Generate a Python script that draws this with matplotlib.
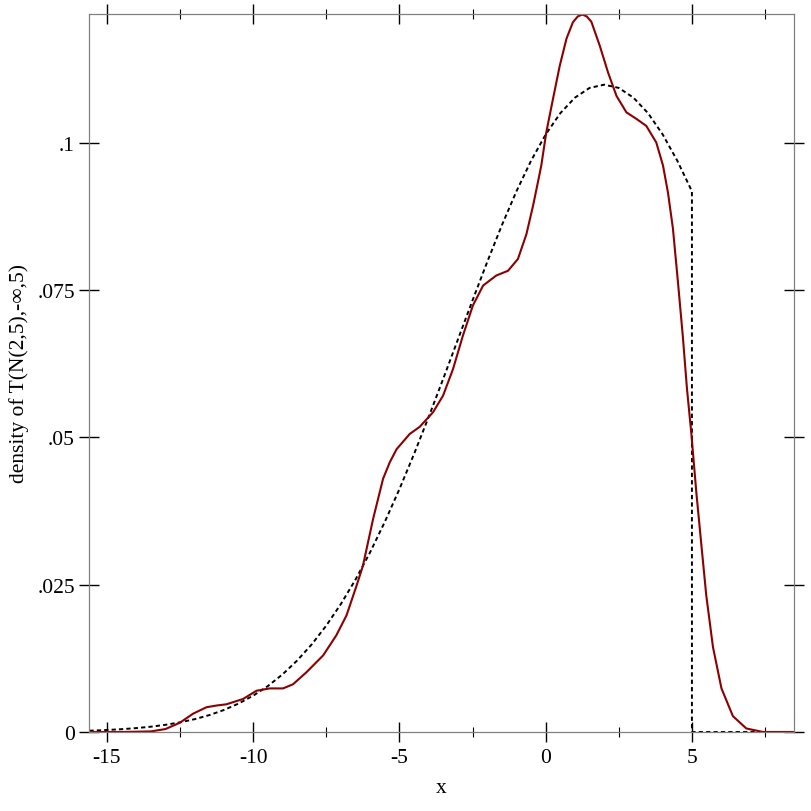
"""Truncated normal density vs. kernel density estimate, Racket-plot look."""

import matplotlib

matplotlib.use("Agg")
import matplotlib.pyplot as plt

plt.rcParams["font.family"] = ["Liberation Serif", "DejaVu Serif"]

# dashed: exact density of T(N(2,5),-inf,5)
exact_x = [-15.6, -15, -14.5, -14, -13.5, -13, -12.5, -12, -11.5, -11, -10.5, -10,
           -9.5, -9, -8.5, -8, -7.5, -7, -6.5, -6, -5.5, -5, -4.5, -4, -3.5, -3,
           -2.5, -2, -1.5, -1, -0.5, 0, 0.5, 1, 1.5, 2, 2.5, 3, 3.5, 4, 4.5, 5,
           5, 8.5]
exact_y = [0.00022, 0.00034, 0.00048, 0.00066, 0.0009, 0.00122, 0.00164, 0.00218,
           0.00287, 0.00374, 0.00483, 0.00617, 0.0078, 0.00977, 0.01212, 0.01487,
           0.01808, 0.02175, 0.0259, 0.03055, 0.03568, 0.04125, 0.04721, 0.0535,
           0.06002, 0.06666, 0.0733, 0.0798, 0.08602, 0.0918, 0.09699, 0.10145,
           0.10506, 0.1077, 0.10935, 0.1099, 0.10935, 0.1077, 0.10506, 0.10145,
           0.09699, 0.0918, 0.0, 0.0]

# solid: estimated density from samples
kde_x = [-15.6, -14.5, -14.0, -13.5, -13.0, -12.5, -12.06, -11.6, -11.25, -10.92,
         -10.35, -9.89, -9.44, -8.98, -8.64, -8.19, -7.61, -7.16, -6.81, -6.47,
         -6.25, -5.9, -5.56, -5.33, -5.1, -4.65, -4.31, -3.85, -3.51, -3.17, -2.83,
         -2.49, -2.14, -1.69, -1.29, -0.95, -0.66, -0.43, -0.26, -0.15, 0.02, 0.25,
         0.48, 0.71, 0.93, 1.1, 1.25, 1.4, 1.56, 1.85, 2.13, 2.42, 2.76, 3.1, 3.44,
         3.78, 4.01, 4.18, 4.35, 4.52, 4.69, 4.83, 4.98, 5.15, 5.32, 5.49, 5.72,
         6.01, 6.4, 6.86, 7.43, 8.5]
kde_y = [0.0, 0.0, 0.00005, 0.0001, 0.0005, 0.0016, 0.0031, 0.0042, 0.0045, 0.0047,
         0.0056, 0.007, 0.0074, 0.0074, 0.0081, 0.0101, 0.013, 0.0164, 0.0198,
         0.0248, 0.0282, 0.0362, 0.043, 0.0458, 0.048, 0.0506, 0.0518, 0.0543,
         0.0571, 0.0616, 0.0673, 0.0724, 0.0758, 0.0775, 0.0783, 0.0803, 0.0845,
         0.0894, 0.0935, 0.0962, 0.1018, 0.1075, 0.1131, 0.1177, 0.1205, 0.1215,
         0.1218, 0.1215, 0.1206, 0.1165, 0.112, 0.108, 0.1052, 0.1041, 0.1029,
         0.1001, 0.0962, 0.0916, 0.0855, 0.0765, 0.0671, 0.0583, 0.0507, 0.0407,
         0.0319, 0.0232, 0.0144, 0.0074, 0.0027, 0.0006, 0.0, 0.0]

x_ticks = [-15, -10, -5, 0, 5]
x_tick_labels = ["-15", "-10", "-5", "0", "5"]
x_minor = [-12.5, -7.5, -2.5, 2.5, 7.5]
y_ticks = [0, 0.025, 0.05, 0.075, 0.1]
y_tick_labels = ["0", ".025", ".05", ".075", ".1"]

fig = plt.figure(figsize=(8.12, 8.12), dpi=100)
ax = fig.add_axes([89 / 812, 79 / 812, 705 / 812, 718 / 812])

ax.plot(exact_x, exact_y, color="black", lw=1.4, linestyle=(0, (2.2, 1.6)))
ax.plot(kde_x, kde_y, color="#8b0000", lw=1.5, solid_joinstyle="round")

ax.set_xlim(-15.615, 8.49)
ax.set_ylim(0, 0.1219)

ax.set_xticks(x_ticks)
ax.set_xticklabels(x_tick_labels)
ax.set_xticks(x_minor, minor=True)
ax.set_yticks(y_ticks)
ax.set_yticklabels(y_tick_labels)

for s in ax.spines.values():
    s.set_color("#808080")
    s.set_linewidth(0.9)

ax.tick_params(which="major", direction="inout", length=14.5, width=1.0,
               color="black", labelsize=15.5, top=True, right=True)
ax.tick_params(which="minor", direction="inout", length=7.2, width=0.8,
               color="black", top=True, right=False, left=False)
ax.tick_params(axis="x", which="major", pad=4)
ax.tick_params(axis="y", which="major", pad=3)

ax.set_xlabel("x", fontsize=15.5, labelpad=8)
ax.set_ylabel("density of T(N(2,5),-\u221e,5)", fontsize=15.5, labelpad=6)

fig.savefig("out.png", dpi=100)
plt.close(fig)
